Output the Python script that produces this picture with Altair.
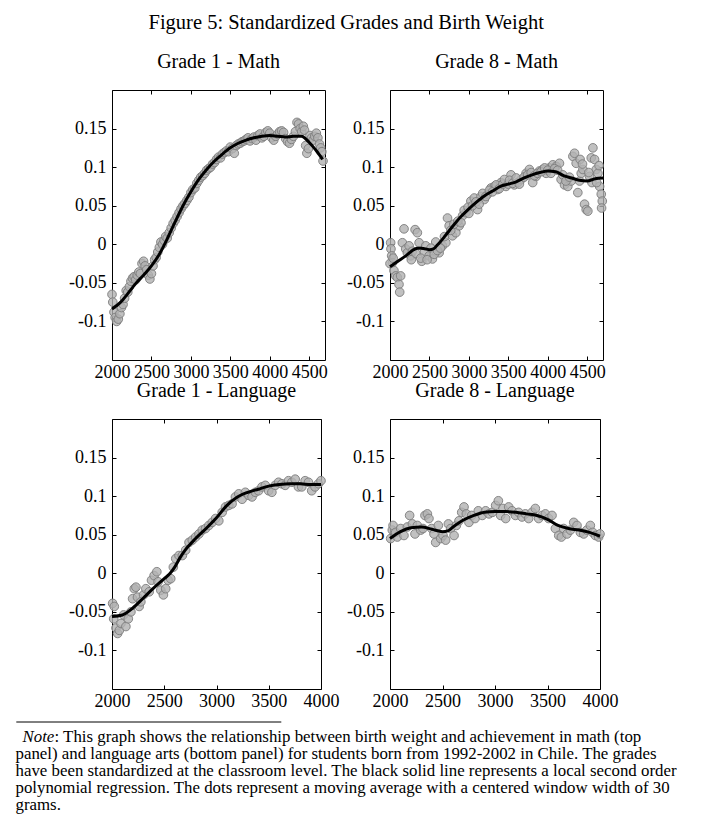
import altair as alt
import pandas as pd

FONT = "Liberation Serif"

# ---------------- Grade 1 - Math ----------------
g1m_pts_x = [2000, 2010, 2025, 2040, 2060, 2080, 2100, 2120, 2140, 2160, 2180, 2200, 2220, 2240, 2260, 2280,
             2300, 2320, 2340, 2360, 2380, 2400, 2420, 2440, 2460, 2480, 2500, 2520, 2540, 2560, 2580, 2600,
             2620, 2640, 2660, 2680, 2700, 2725, 2750, 2775, 2800, 2825, 2850, 2875, 2900, 2925, 2950, 2975,
             3000, 3025, 3050, 3075, 3100, 3125, 3150, 3175, 3200, 3225, 3250, 3275, 3300, 3325, 3350, 3375,
             3400, 3425, 3450, 3475, 3500, 3525, 3550, 3575, 3600, 3625, 3650, 3675, 3700, 3725, 3750, 3775,
             3800, 3825, 3850, 3875, 3900, 3925, 3950, 3975, 4000, 4025, 4050, 4075, 4100, 4125, 4150, 4175,
             4200, 4225, 4250, 4275, 4300, 4325, 4345, 4365, 4385, 4405, 4425, 4440, 4455, 4470, 4490, 4510,
             4530, 4550, 4570, 4590, 4610, 4630, 4645, 4660, 4675]
g1m_pts_y = [-0.065, -0.075, -0.088, -0.095, -0.100, -0.097, -0.090, -0.082, -0.078, -0.070, -0.060, -0.062,
             -0.055, -0.048, -0.044, -0.042, -0.046, -0.040, -0.036, -0.038, -0.025, -0.022, -0.028, -0.033,
             -0.040, -0.045, -0.038, -0.028, -0.020, -0.017, -0.010, -0.004, 0.003, 0.000, 0.005, 0.010,
             0.008, 0.015, 0.021, 0.027, 0.031, 0.036, 0.041, 0.046, 0.050, 0.053, 0.057, 0.061,
             0.067, 0.071, 0.073, 0.079, 0.083, 0.087, 0.089, 0.092, 0.096, 0.098, 0.100, 0.104,
             0.106, 0.110, 0.113, 0.112, 0.117, 0.119, 0.121, 0.120, 0.126, 0.124, 0.118, 0.128,
             0.130, 0.131, 0.133, 0.134, 0.136, 0.138, 0.134, 0.137, 0.139, 0.135, 0.141, 0.143,
             0.138, 0.140, 0.145, 0.147, 0.144, 0.138, 0.135, 0.140, 0.143, 0.146, 0.147, 0.145,
             0.137, 0.133, 0.131, 0.136, 0.140, 0.146, 0.158, 0.156, 0.150, 0.146, 0.153, 0.148,
             0.128, 0.118, 0.124, 0.141, 0.138, 0.135, 0.140, 0.144, 0.138, 0.130, 0.125, 0.120, 0.108]
g1m_line_x = [2000, 2100, 2200, 2300, 2400, 2500, 2600, 2700, 2800, 2900, 3000, 3100, 3200, 3300, 3400,
              3500, 3600, 3700, 3800, 3900, 4000, 4100, 4200, 4300, 4400, 4500, 4600, 4670]
g1m_line_y = [-0.084, -0.076, -0.064, -0.051, -0.040, -0.028, -0.013, 0.007, 0.029, 0.050, 0.068, 0.084,
              0.097, 0.108, 0.117, 0.125, 0.131, 0.135, 0.138, 0.140, 0.141, 0.140, 0.139, 0.140, 0.140,
              0.132, 0.120, 0.110]

# ---------------- Grade 8 - Math ----------------
g8m_pts_x = [2008, 2012, 2021, 2030, 2050, 2072, 2093, 2114, 2123, 2135, 2157, 2178, 2199, 2220, 2242, 2263,
             2284, 2318, 2347, 2369, 2403, 2432, 2453, 2496, 2538, 2580, 2623, 2665, 2708, 2729, 2750, 2792,
             2835, 2877, 2920, 2962, 3025, 3068, 3110, 3153, 3195, 3237, 3280, 3322, 3364, 3407, 3470, 3534,
             3576, 3619, 3661, 3725, 3767, 3809, 3852, 3894, 3936, 3979, 4021, 4064, 4106, 4148, 4169, 4212,
             4254, 4297, 4318, 4339, 4360, 4381, 4403, 4424, 4445, 4466, 4487, 4508, 4530, 4551, 4572, 4593,
             4614, 4636, 4657, 4678, 4691, 4682,
             2000, 2040, 2270, 2330, 2390, 2470, 2520, 2560, 2600, 2640, 2690, 2770, 2810, 2860, 2900, 2940,
             2990, 3000, 3045, 3090, 3130, 3175, 3215, 3260, 3300, 3345, 3385, 3430, 3450, 3500, 3515, 3555,
             3600, 3640, 3700, 3745, 3790, 3830, 3870, 3915, 3960, 4000, 4040, 4085, 4125, 4190, 4230, 4275,
             4410, 4440, 4520, 4560, 4620, 4650]
g8m_pts_y = [0.002, -0.006, -0.015, -0.024, -0.034, -0.041, -0.043, -0.052, -0.062, -0.041, 0.002, 0.020,
             -0.006, -0.011, -0.002, -0.015, -0.009, 0.019, 0.015, 0.002, -0.022, -0.011, -0.002, -0.015,
             -0.019, 0.003, -0.011, -0.002, 0.002, 0.034, 0.024, 0.011, 0.015, 0.024, 0.037, 0.041,
             0.056, 0.060, 0.045, 0.062, 0.058, 0.065, 0.073, 0.075, 0.071, 0.080, 0.075, 0.090,
             0.077, 0.080, 0.084, 0.092, 0.097, 0.080, 0.088, 0.095, 0.097, 0.092, 0.099, 0.103,
             0.101, 0.105, 0.084, 0.077, 0.075, 0.082, 0.114, 0.118, 0.105, 0.067, 0.082, 0.092,
             0.097, 0.052, 0.045, 0.043, 0.088, 0.112, 0.125, 0.110, 0.097, 0.092, 0.075, 0.065,
             0.056, 0.047,
             -0.025, -0.018, -0.020, -0.012, -0.018, -0.020, -0.005, -0.013, -0.008, -0.005, 0.010, 0.018,
             0.026, 0.030, 0.028, 0.044, 0.048, 0.040, 0.050, 0.055, 0.052, 0.066, 0.062, 0.070,
             0.068, 0.077, 0.072, 0.078, 0.084, 0.078, 0.083, 0.079, 0.086, 0.078, 0.087, 0.090,
             0.093, 0.089, 0.092, 0.094, 0.099, 0.096, 0.092, 0.098, 0.096, 0.090, 0.082, 0.087,
             0.110, 0.104, 0.093, 0.080, 0.080, 0.102]
g8m_line_x = [2000, 2100, 2200, 2300, 2350, 2400, 2500, 2550, 2600, 2700, 2800, 2900, 3000, 3100, 3200,
              3300, 3400, 3500, 3600, 3700, 3800, 3900, 4000, 4100, 4200, 4300, 4400, 4500, 4600, 4700]
g8m_line_y = [-0.029, -0.022, -0.015, -0.007, -0.005, -0.005, -0.007, -0.006, -0.001, 0.011, 0.024, 0.036,
              0.046, 0.055, 0.063, 0.069, 0.075, 0.078, 0.081, 0.086, 0.090, 0.093, 0.095, 0.094, 0.089,
              0.086, 0.083, 0.082, 0.085, 0.086]

# ---------------- Grade 1 - Language ----------------
g1l_pts_x = [2006, 2022, 2016, 2038, 2054, 2070, 2086, 2111, 2133, 2156, 2181, 2197, 2213, 2229, 2244, 2260,
             2276, 2302, 2324, 2356, 2378, 2403, 2429, 2441, 2467, 2492, 2514, 2537, 2562, 2587, 2610, 2641,
             2673, 2705, 2737, 2768, 2800, 2832, 2864, 2895, 2927, 2959, 2991, 3022, 3054, 3086, 3118, 3149,
             3181, 3213, 3245, 3276, 3308, 3340, 3372, 3403, 3435, 3467, 3499, 3530, 3562, 3594, 3626, 3657,
             3689, 3721, 3753, 3784, 3816, 3848, 3880, 3911, 3943, 3975, 4000]
g1l_pts_y = [-0.039, -0.043, -0.059, -0.071, -0.078, -0.074, -0.065, -0.054, -0.069, -0.059, -0.050, -0.033,
             -0.020, -0.018, -0.031, -0.043, -0.037, -0.028, -0.020, -0.024, -0.009, -0.003, 0.002, -0.011,
             -0.022, -0.028, -0.020, -0.009, -0.007, 0.008, 0.019, 0.023, 0.023, 0.030, 0.040, 0.043,
             0.047, 0.051, 0.056, 0.058, 0.062, 0.066, 0.071, 0.068, 0.079, 0.086, 0.088, 0.090,
             0.099, 0.103, 0.096, 0.105, 0.101, 0.099, 0.105, 0.107, 0.112, 0.114, 0.107, 0.105,
             0.114, 0.118, 0.116, 0.114, 0.120, 0.118, 0.122, 0.112, 0.112, 0.120, 0.118, 0.107,
             0.112, 0.116, 0.120]
g1l_line_x = [2000, 2100, 2200, 2300, 2400, 2500, 2550, 2600, 2650, 2700, 2800, 2900, 3000, 3100, 3200,
              3300, 3400, 3500, 3600, 3700, 3800, 3900, 4000]
g1l_line_y = [-0.056, -0.054, -0.045, -0.032, -0.019, -0.007, -0.001, 0.008, 0.020, 0.030, 0.045, 0.058,
              0.072, 0.088, 0.099, 0.105, 0.109, 0.113, 0.115, 0.116, 0.116, 0.115, 0.115]

# ---------------- Grade 8 - Language ----------------
g8l_pts_x = [2006, 2022, 2029, 2054, 2070, 2102, 2133, 2165, 2187, 2213, 2238, 2260, 2292, 2314, 2333, 2356,
             2371, 2397, 2419, 2435, 2460, 2483, 2505, 2530, 2556, 2578, 2610, 2632, 2657, 2683, 2705, 2727,
             2752, 2778, 2810, 2841, 2879, 2911, 2943, 2975, 3006, 3032, 3054, 3076, 3102, 3130, 3162, 3194,
             3225, 3257, 3289, 3321, 3353, 3384, 3416, 3448, 3480, 3511, 3543, 3575, 3607, 3632, 3654, 3686,
             3718, 3750, 3781, 3813, 3845, 3876, 3908, 3930, 3956, 3987, 4000]
g8l_pts_y = [0.045, 0.056, 0.062, 0.053, 0.047, 0.058, 0.049, 0.060, 0.075, 0.064, 0.051, 0.062,
             0.056, 0.058, 0.075, 0.077, 0.071, 0.058, 0.051, 0.040, 0.062, 0.045, 0.049, 0.043,
             0.064, 0.058, 0.049, 0.062, 0.068, 0.079, 0.086, 0.077, 0.066, 0.075, 0.071, 0.081,
             0.075, 0.081, 0.077, 0.079, 0.088, 0.094, 0.075, 0.084, 0.071, 0.086, 0.081, 0.075,
             0.079, 0.073, 0.077, 0.071, 0.079, 0.084, 0.071, 0.075, 0.077, 0.071, 0.075, 0.058,
             0.049, 0.047, 0.058, 0.051, 0.056, 0.066, 0.062, 0.053, 0.051, 0.056, 0.062, 0.053,
             0.049, 0.047, 0.051]
g8l_line_x = [2000, 2100, 2200, 2300, 2400, 2500, 2550, 2600, 2700, 2800, 2900, 3000, 3100, 3200, 3300,
              3400, 3500, 3600, 3700, 3800, 3900, 4000]
g8l_line_y = [0.045, 0.054, 0.059, 0.060, 0.057, 0.054, 0.055, 0.060, 0.069, 0.075, 0.079, 0.080, 0.080,
              0.079, 0.077, 0.075, 0.070, 0.062, 0.058, 0.056, 0.053, 0.048]

y_ticks = [-0.1, -0.05, 0, 0.05, 0.1, 0.15]
x_ticks_top = [2000, 2500, 3000, 3500, 4000, 4500]
x_ticks_bottom = [2000, 2500, 3000, 3500, 4000]

main_title = "Figure 5: Standardized Grades and Birth Weight"
panel_titles = ["Grade 1 - Math", "Grade 8 - Math", "Grade 1 - Language", "Grade 8 - Language"]

note_italic = "Note"
note_first = ": This graph shows the relationship between birth weight and achievement in math (top"
note_rest = [
    "panel) and language arts (bottom panel) for students born from 1992-2002 in Chile.  The grades",
    "have been standardized at the classroom level. The black solid line represents a local second order",
    "polynomial regression. The dots represent a moving average with a centered window width of 30",
    "grams.",
]

INWARD = {"expr": "-4"}
LABEL_SIZE = 18


def panel(px, py, lx, ly, xmax, xticks, width, title):
    dp = pd.DataFrame({"w": px, "v": py})
    dl = pd.DataFrame({"w": lx, "v": ly})
    xs = alt.Scale(domain=[2000, xmax], nice=False, zero=False)
    ys = alt.Scale(domain=[-0.15, 0.2], nice=False, zero=False)
    common = dict(grid=False, domain=False, title=None, tickColor="black", tickWidth=1,
                  tickSize=INWARD, labelOverlap=False, labelFlush=False, minExtent=0)
    pts = alt.Chart(dp).mark_circle(
        size=75, fill="#b2b2b2", stroke="#7c7c7c", strokeWidth=1, fillOpacity=0.8, strokeOpacity=0.9
    ).encode(
        x=alt.X("w:Q", scale=xs, axis=alt.Axis(orient="bottom", values=xticks, format="d",
                                                labelPadding=7, labelFont=FONT, labelFontSize=LABEL_SIZE,
                                                labelColor="black", **common)),
        y=alt.Y("v:Q", scale=ys, axis=alt.Axis(orient="left", values=y_ticks, labelExpr="'' + datum.value",
                                                labelPadding=10, labelFont=FONT, labelFontSize=LABEL_SIZE,
                                                labelColor="black", **common)),
    )
    ln = alt.Chart(dl).mark_line(color="black", strokeWidth=3, interpolate="monotone").encode(
        x=alt.X("w:Q", scale=xs, axis=alt.Axis(orient="top", values=xticks, labels=False, **common)),
        y=alt.Y("v:Q", scale=ys, axis=alt.Axis(orient="right", values=y_ticks, labels=False, **common)),
    )
    return alt.layer(pts, ln).resolve_axis(x="independent", y="independent").properties(
        width=width, height=270,
        title=alt.TitleParams(title, font=FONT, fontSize=20, fontWeight="normal", color="black",
                              anchor="middle", baseline="alphabetic", offset=2),
    )


tl = panel(g1m_pts_x, g1m_pts_y, g1m_line_x, g1m_line_y, 4700, x_ticks_top, 213, panel_titles[0])
tr = panel(g8m_pts_x, g8m_pts_y, g8m_line_x, g8m_line_y, 4700, x_ticks_top, 213, panel_titles[1])
bl = panel(g1l_pts_x, g1l_pts_y, g1l_line_x, g1l_line_y, 4000, x_ticks_bottom, 209, panel_titles[2])
br = panel(g8l_pts_x, g8l_pts_y, g8l_line_x, g8l_line_y, 4000, x_ticks_bottom, 210, panel_titles[3])

# ---------------- note ----------------
NF = 16.85
ny = alt.Scale(domain=[0, 4], range=[-6, 62])
body = alt.Chart(pd.DataFrame({"i": [1, 2, 3, 4], "t": note_rest})).mark_text(
    align="left", baseline="alphabetic", font=FONT, fontSize=NF, color="black"
).encode(x=alt.value(-96.5), y=alt.Y("i:Q", scale=ny, axis=None), text="t:N")
first_it = alt.Chart(pd.DataFrame({"i": [0], "t": [note_italic]})).mark_text(
    align="left", baseline="alphabetic", font=FONT, fontSize=NF, fontStyle="italic", color="black"
).encode(x=alt.value(-89.5), y=alt.Y("i:Q", scale=ny, axis=None), text="t:N")
first_rest = alt.Chart(pd.DataFrame({"i": [0], "t": [note_first]})).mark_text(
    align="left", baseline="alphabetic", font=FONT, fontSize=NF, color="black"
).encode(x=alt.value(-89.5 + 32), y=alt.Y("i:Q", scale=ny, axis=None), text="t:N")
rule = alt.Chart(pd.DataFrame({"i": [0]})).mark_rule(color="black", strokeWidth=1).encode(
    x=alt.value(-95.7), x2=alt.value(169.3), y=alt.value(-26)
)
note = alt.layer(rule, body, first_it, first_rest).properties(
    width=200, height=68, view=alt.ViewBackground(strokeOpacity=0)
)

chart = alt.concat(
    tl, tr, bl, br, note, columns=2, spacing={"row": 59, "column": 65}, bounds="flush", align="none"
).properties(
    title=alt.TitleParams(main_title, font=FONT, fontSize=20.5, fontWeight="normal", color="black",
                          anchor="middle", baseline="alphabetic", offset=2),
    padding={"left": 7, "top": 4, "right": 0, "bottom": 0},
).configure_view(stroke="black", strokeWidth=1).configure_axis(labelFont=FONT)

chart.save("out.html", embed_options={"renderer": "svg", "actions": False})
